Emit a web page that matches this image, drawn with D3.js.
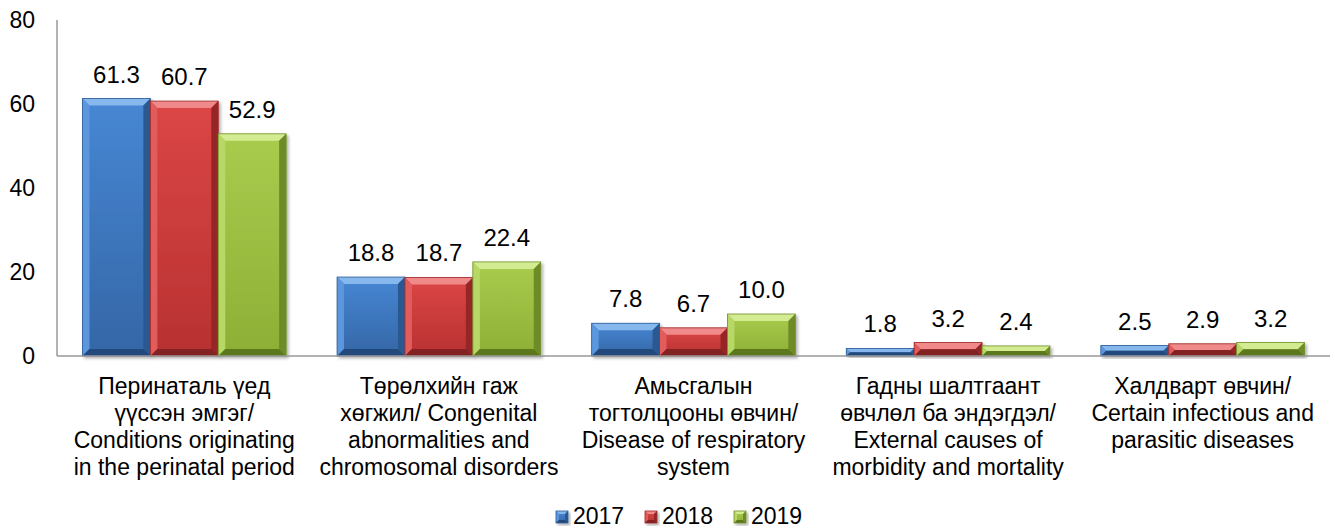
<!DOCTYPE html>
<html>
<head>
<meta charset="utf-8">
<script src="https://cdn.jsdelivr.net/npm/d3@7"></script>
<style>
  body { margin: 0; background: #fff; }
  svg { display: block; font-family: "Liberation Sans", Arial, sans-serif; }
</style>
</head>
<body>
<svg></svg>
<script>
// chart size
var width = 1335;
var height = 530;
var svg = d3.select("svg").attr("width", width).attr("height", height);

// data
var categories = [
  ["Перинаталь үед", "үүссэн эмгэг/", "Conditions originating", "in the perinatal period"],
  ["Төрөлхийн гаж", "хөгжил/ Congenital", "abnormalities and", "chromosomal disorders"],
  ["Амьсгалын", "тогтолцооны өвчин/", "Disease of respiratory", "system"],
  ["Гадны шалтгаант", "өвчлөл ба эндэгдэл/", "External causes of", "morbidity and mortality"],
  ["Халдварт өвчин/", "Certain infectious and", "parasitic diseases"]
];
var years = ["2017", "2018", "2019"];
var values2017 = [61.3, 18.8, 7.8, 1.8, 2.5];
var values2018 = [60.7, 18.7, 6.7, 3.2, 2.9];
var values2019 = [52.9, 22.4, 10.0, 2.4, 3.2];
var yTicks = [0, 20, 40, 60, 80];

var series = [values2017, values2018, values2019];

// colours per year: face gradient, bevel sides, outline
var palette = [
  { top: "#4787d4", bottom: "#3466a6", hi: "#86b8ee", left: "#5b97de", right: "#2b5890", low: "#234a7c", line: "#2f5c96" },
  { top: "#dc4646", bottom: "#b83131", hi: "#f08a8a", left: "#e25c5c", right: "#962828", low: "#832020", line: "#9c2b2b" },
  { top: "#a9cc4e", bottom: "#8daf35", hi: "#d3ec92", left: "#b7d866", right: "#6d8b25", low: "#5d771e", line: "#72902a" }
];

var plotLeft = 57, plotRight = 1330, baseY = 356, topY = 20;

var x0 = d3.scaleBand()
  .domain(d3.range(categories.length))
  .range([plotLeft, plotRight])
  .paddingInner(0.2)
  .paddingOuter(0.1);

var x1 = d3.scaleBand()
  .domain(years)
  .range([0, x0.bandwidth()]);

var y = d3.scaleLinear().domain([0, 80]).range([baseY, topY]);

var defs = svg.append("defs");

// shadow
var filter = defs.append("filter").attr("id", "shadow")
  .attr("x", "-10%").attr("y", "-10%").attr("width", "130%").attr("height", "130%");
filter.append("feDropShadow")
  .attr("dx", 2).attr("dy", 2).attr("stdDeviation", 1.5)
  .attr("flood-color", "#000").attr("flood-opacity", 0.3);

palette.forEach(function (p, i) {
  var g = defs.append("linearGradient").attr("id", "face" + i)
    .attr("x1", 0).attr("y1", 0).attr("x2", 0).attr("y2", 1);
  g.append("stop").attr("offset", "0%").attr("stop-color", p.top);
  g.append("stop").attr("offset", "100%").attr("stop-color", p.bottom);
});

// axes
svg.append("line")
  .attr("x1", plotLeft).attr("x2", plotLeft)
  .attr("y1", y(80)).attr("y2", baseY)
  .attr("stroke", "#999").attr("stroke-width", 1.5);

svg.selectAll(".ytick").data(yTicks).enter().append("text")
  .attr("x", 35)
  .attr("y", d => y(d))
  .attr("dy", "0.35em")
  .attr("text-anchor", "end")
  .attr("font-size", "23px")
  .attr("fill", "#000")
  .text(d => d);

// bevelled bar
function bevelBar(g, x, yTop, w, h, p, idx, bMax) {
  var b = Math.min(bMax, h / 2, w / 2);
  var pts = function (a) { return a.map(q => q.join(",")).join(" "); };
  var bar = g.append("g").attr("filter", "url(#shadow)");
  bar.append("rect")
    .attr("x", x).attr("y", yTop).attr("width", w).attr("height", h)
    .attr("fill", "url(#face" + idx + ")");
  bar.append("polygon").attr("fill", p.hi)
    .attr("points", pts([[x, yTop], [x + w, yTop], [x + w - b, yTop + b], [x + b, yTop + b]]));
  bar.append("polygon").attr("fill", p.left)
    .attr("points", pts([[x, yTop], [x + b, yTop + b], [x + b, yTop + h - b], [x, yTop + h]]));
  bar.append("polygon").attr("fill", p.right)
    .attr("points", pts([[x + w, yTop], [x + w, yTop + h], [x + w - b, yTop + h - b], [x + w - b, yTop + b]]));
  bar.append("polygon").attr("fill", p.low)
    .attr("points", pts([[x, yTop + h], [x + b, yTop + h - b], [x + w - b, yTop + h - b], [x + w, yTop + h]]));
  bar.append("rect")
    .attr("x", x).attr("y", yTop).attr("width", w).attr("height", h)
    .attr("fill", "none").attr("stroke", p.line).attr("stroke-width", 0.8);
}

var fmt = d3.format(".1f");

series.forEach(function (vals, si) {
  var g = svg.append("g");
  vals.forEach(function (v, ci) {
    var bx = x0(ci) + x1(years[si]);
    var bw = x1.bandwidth();
    bevelBar(g, bx, y(v), bw, baseY - y(v), palette[si], si, 7);
    svg.append("text")
      .attr("x", bx + bw / 2)
      .attr("y", y(v) - 16)
      .attr("text-anchor", "middle")
      .attr("font-size", "24px")
      .attr("fill", "#000")
      .text(fmt(v));
  });
});

// baseline on top of bars
svg.append("line")
  .attr("x1", plotLeft).attr("x2", plotRight)
  .attr("y1", baseY).attr("y2", baseY)
  .attr("stroke", "#999").attr("stroke-width", 1.5);

// category labels
categories.forEach(function (lines, ci) {
  var cx = x0(ci) + x0.bandwidth() / 2;
  var t = svg.append("text")
    .attr("text-anchor", "middle")
    .attr("font-size", "23px")
    .attr("fill", "#000");
  lines.forEach(function (ln, li) {
    t.append("tspan")
      .attr("x", cx)
      .attr("y", 394 + li * 27)
      .text(ln);
  });
});

// legend
var legendX = [556, 645, 734];
years.forEach(function (yr, i) {
  var lg = svg.append("g");
  bevelBar(lg, legendX[i], 511, 12, 12, palette[i], i, 3);
  svg.append("text")
    .attr("x", legendX[i] + 17)
    .attr("y", 524)
    .attr("font-size", "23px")
    .attr("fill", "#000")
    .text(yr);
});
</script>
</body>
</html>
